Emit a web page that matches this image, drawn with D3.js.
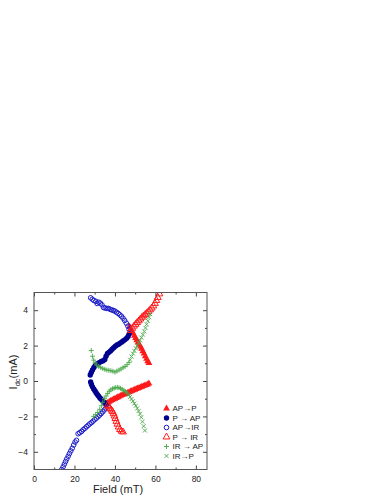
<!DOCTYPE html>
<meta charset="utf-8">
<style>
  body { margin: 0; background: #fff; }
  svg text { font-family: "Liberation Sans", Arial, sans-serif; fill: #222; }
</style>
<svg width="388" height="502"></svg>
<script src="https://cdn.jsdelivr.net/npm/d3@7"></script>
<script>

// data: [field (mT), Idc (mA)]
var apToP = [
  [47.2,3.08],[47.8,2.95],[48.4,2.82],[49.0,2.70],[49.6,2.56],[50.2,2.43],[50.8,2.30],[51.4,2.18],
  [52.0,2.06],[52.6,1.94],[53.2,1.82],[53.8,1.68],[54.4,1.55],[55.0,1.40],[55.6,1.25],[56.2,1.12],[56.8,1.02],
  [35.8,-1.28],[36.5,-1.22],[37.2,-1.17],[37.9,-1.12],[38.6,-1.08],[39.3,-1.04],[40.0,-1.00],[40.7,-0.96],
  [41.4,-0.92],[42.1,-0.88],[42.8,-0.84],[43.5,-0.80],[44.2,-0.77],[44.9,-0.74],[45.6,-0.71],[46.3,-0.67],
  [47.0,-0.63],[47.7,-0.59],[48.4,-0.56],[49.1,-0.52],[49.8,-0.49],[50.5,-0.45],[51.2,-0.42],[51.9,-0.39],
  [52.6,-0.36],[53.3,-0.32],[54.0,-0.29],[54.7,-0.26],[55.4,-0.23],[56.1,-0.20],[56.8,-0.14]
];
var pToAp = [
  [27.8,0.34],[28.3,0.48],[28.9,0.62],[29.6,0.76],[30.3,0.88],[31.2,0.96],[32.2,1.04],[33.2,1.10],
  [34.2,1.14],[35.0,1.22],[35.6,1.40],[36.3,1.55],[37.0,1.62],[37.8,1.70],[38.6,1.80],[39.4,1.88],
  [40.2,1.97],[41.0,2.04],[41.8,2.08],[42.6,2.14],[43.4,2.20],[44.2,2.27],[45.0,2.34],[45.8,2.42],
  [46.5,2.52],[47.0,2.65],
  [28.0,-0.05],[28.4,-0.20],[28.9,-0.33],[29.5,-0.45],[30.1,-0.55],[30.7,-0.66],[31.3,-0.76],
  [31.9,-0.85],[32.5,-0.94],[33.1,-1.02],[33.8,-1.10],[34.5,-1.18],[35.1,-1.26],[35.7,-1.33]
];
var apToIr = [
  [28.0,4.70],[28.8,4.62],[29.6,4.55],[30.6,4.50],[31.2,4.38],[32.0,4.45],[32.8,4.40],[33.6,4.30],
  [34.4,4.15],[35.2,4.12],[36.0,4.10],[36.8,4.10],[37.6,4.05],[38.4,4.02],[39.2,3.98],[40.0,3.95],
  [40.8,3.88],[41.6,3.82],[42.4,3.74],[43.2,3.66],[44.0,3.55],[44.8,3.42],[45.6,3.27],[46.4,3.10],[47.0,2.92],
  [13.7,-5.00],[14.4,-4.85],[15.0,-4.70],[15.6,-4.55],[16.2,-4.40],[16.9,-4.25],[17.5,-4.10],[18.2,-3.95],
  [18.9,-3.80],[19.6,-3.62],[20.3,-3.45],[21.0,-3.35],[21.8,-2.98],[22.6,-2.92],[23.5,-2.85],[24.3,-2.75],
  [25.2,-2.67],[26.0,-2.58],[26.8,-2.50],[27.6,-2.42],[28.4,-2.35],[29.2,-2.27],[30.0,-2.18],[30.8,-2.10],
  [31.6,-2.02],[32.4,-1.93],[33.2,-1.84],[34.0,-1.74],[34.8,-1.63],[35.6,-1.52]
];
var pToIr = [
  [47.8,2.85],[48.6,2.98],[49.4,3.10],[50.2,3.20],[51.0,3.30],[51.8,3.40],[52.6,3.50],[53.4,3.60],
  [54.2,3.68],[55.0,3.76],[55.8,3.84],[56.6,3.93],[57.4,4.02],[58.2,4.12],[59.0,4.24],[59.8,4.38],
  [60.5,4.55],[61.2,4.72],[62.0,4.92],
  [36.4,-1.38],[37.0,-1.46],[37.6,-1.55],[38.2,-1.64],[38.8,-1.73],[39.3,-1.85],[39.8,-1.98],
  [40.2,-2.12],[40.7,-2.28],[41.2,-2.44],[41.8,-2.60],[42.5,-2.74],[43.2,-2.83],[44.0,-2.88]
];
var irToAp = [
  [28.3,1.72],[28.9,1.40],[29.5,1.18],[30.2,1.02],[31.0,0.90],[32.0,0.82],[33.0,0.76],[34.0,0.70],
  [35.0,0.66],[36.0,0.62],[37.0,0.60],[38.0,0.58],[39.0,0.55],[40.0,0.50],[41.0,0.56],[42.0,0.62],
  [43.0,0.68],[44.0,0.75],[45.0,0.82],[46.0,0.92],[47.0,1.05],
  [29.5,-2.00],[30.5,-1.90],[31.5,-1.78],[32.5,-1.60],[33.3,-1.40],[34.0,-1.20],[34.8,-1.00],[35.6,-0.85],
  [36.4,-0.70],[37.2,-0.58],[38.0,-0.50],[38.8,-0.44],[39.6,-0.40],[40.4,-0.37],[41.2,-0.36],
  [42.0,-0.38],[42.8,-0.42],[43.6,-0.47],[44.4,-0.53],[45.2,-0.60],[46.0,-0.68]
];
var irToP = [
  [47.5,1.20],[48.2,1.38],[48.9,1.55],[49.6,1.70],[50.3,1.85],[51.0,2.00],[51.7,2.15],[52.4,2.30],
  [53.1,2.45],[53.8,2.62],[54.5,2.80],[55.1,3.00],[55.7,3.20],[56.3,3.40],[56.9,3.60],[57.4,3.78],
  [46.8,-0.78],[47.5,-0.90],[48.2,-1.02],[48.9,-1.14],[49.6,-1.27],[50.3,-1.40],[51.0,-1.55],
  [51.7,-1.70],[52.4,-1.85],[53.0,-2.05],[53.6,-2.30],[54.2,-2.55],[54.8,-2.80]
];

var xTicks = [0, 20, 40, 60, 80];
var yTicks = [-4, -2, 0, 2, 4];
var legendLabels = ["AP\u2192P", "P \u2192 AP", "AP\u2192IR", "P \u2192 IR", "IR \u2192 AP", "IR\u2192P"];

var svg = d3.select("svg");

var x = d3.scaleLinear().domain([0, 85.5]).range([34, 207]);
var y = d3.scaleLinear().domain([-5, 5]).range([469.5, 292.5]);

var red = "#ff1a1a", navy = "#00008f", blue = "#1c1cc8", green = "#4aa84a";

// marker drawers
var tri = d3.symbol().type(d3.symbolTriangle).size(20)();
function drawMarker(g, kind, color) {
  if (kind == "triF") g.append("path").attr("d", tri).attr("fill", color);
  else if (kind == "triO") g.append("path").attr("d", tri).attr("fill", "none").attr("stroke", color).attr("stroke-width", 1);
  else if (kind == "cirF") g.append("circle").attr("r", 2.7).attr("fill", color);
  else if (kind == "cirO") g.append("circle").attr("r", 2.3).attr("fill", "none").attr("stroke", color).attr("stroke-width", 1);
  else if (kind == "plus") g.append("path").attr("d", "M-2.5,0H2.5M0,-2.5V2.5").attr("stroke", color).attr("stroke-width", 0.9);
  else if (kind == "cross") g.append("path").attr("d", "M-2,-2L2,2M-2,2L2,-2").attr("stroke", color).attr("stroke-width", 0.9);
}

var series = [
  { data: apToP, kind: "triF", color: red },
  { data: pToAp, kind: "cirF", color: navy },
  { data: apToIr, kind: "cirO", color: blue },
  { data: pToIr, kind: "triO", color: red },
  { data: irToAp, kind: "plus", color: green },
  { data: irToP, kind: "cross", color: green }
];

svg.append("defs").append("clipPath").attr("id", "clip")
  .append("rect").attr("x", 34).attr("y", 292.5).attr("width", 173).attr("height", 177);

var plot = svg.append("g").attr("clip-path", "url(#clip)");
series.forEach(function(s) {
  plot.append("g").selectAll("g")
    .data(s.data)
    .enter().append("g")
      .attr("transform", function(d) { return "translate(" + x(d[0]) + "," + y(d[1]) + ")"; })
      .each(function() { drawMarker(d3.select(this), s.kind, s.color); });
});

// axes, ticks inward
function styleAxis(g) {
  g.selectAll(".domain").remove();
  g.selectAll("line").attr("stroke", "#444");
  g.selectAll("text").style("font-size", "8.5px").attr("fill", "#222");
}
svg.append("g").attr("transform", "translate(0,469.5)")
  .call(d3.axisBottom(x).tickValues(xTicks).tickSize(-4).tickPadding(6))
  .call(styleAxis);
svg.append("g").attr("transform", "translate(0,469.5)")
  .call(d3.axisBottom(x).tickValues([10, 30, 50, 70]).tickSize(-2).tickFormat(""))
  .call(styleAxis);
svg.append("g").attr("transform", "translate(0,292.5)")
  .call(d3.axisTop(x).tickValues(xTicks).tickSize(-4).tickFormat(""))
  .call(styleAxis);
svg.append("g").attr("transform", "translate(0,292.5)")
  .call(d3.axisTop(x).tickValues([10, 30, 50, 70]).tickSize(-2).tickFormat(""))
  .call(styleAxis);
svg.append("g").attr("transform", "translate(34,0)")
  .call(d3.axisLeft(y).tickValues(yTicks).tickSize(-4).tickPadding(6).tickFormat(d3.format("d")))
  .call(styleAxis);
svg.append("g").attr("transform", "translate(34,0)")
  .call(d3.axisLeft(y).tickValues([-3, -1, 1, 3]).tickSize(-2).tickFormat(""))
  .call(styleAxis);
svg.append("g").attr("transform", "translate(207,0)")
  .call(d3.axisRight(y).tickValues(yTicks).tickSize(-4).tickFormat(""))
  .call(styleAxis);
svg.append("g").attr("transform", "translate(207,0)")
  .call(d3.axisRight(y).tickValues([-3, -1, 1, 3]).tickSize(-2).tickFormat(""))
  .call(styleAxis);

svg.append("rect")
  .attr("x", 34).attr("y", 292.5).attr("width", 173).attr("height", 177)
  .attr("fill", "none").attr("stroke", "#555").attr("stroke-width", 1);

// axis titles
svg.append("text")
  .attr("x", 118).attr("y", 493)
  .attr("text-anchor", "middle")
  .style("font-size", "11px")
  .text("Field (mT)");

var yl = svg.append("text")
  .attr("transform", "translate(17,372) rotate(-90)")
  .attr("text-anchor", "middle")
  .style("font-size", "11px");
yl.append("tspan").text("I");
yl.append("tspan").attr("dy", 3).style("font-size", "7.5px").text("dc");
yl.append("tspan").attr("dy", -3).text("(mA)");

// legend
var legend = svg.append("g");
series.forEach(function(s, i) {
  var row = legend.append("g").attr("transform", "translate(166.5," + (408.5 + i * 9.5) + ")");
  drawMarker(row, s.kind, s.color);
  row.append("text").attr("x", 6).attr("dy", "0.35em").style("font-size", "8px").text(legendLabels[i]);
});

</script>
